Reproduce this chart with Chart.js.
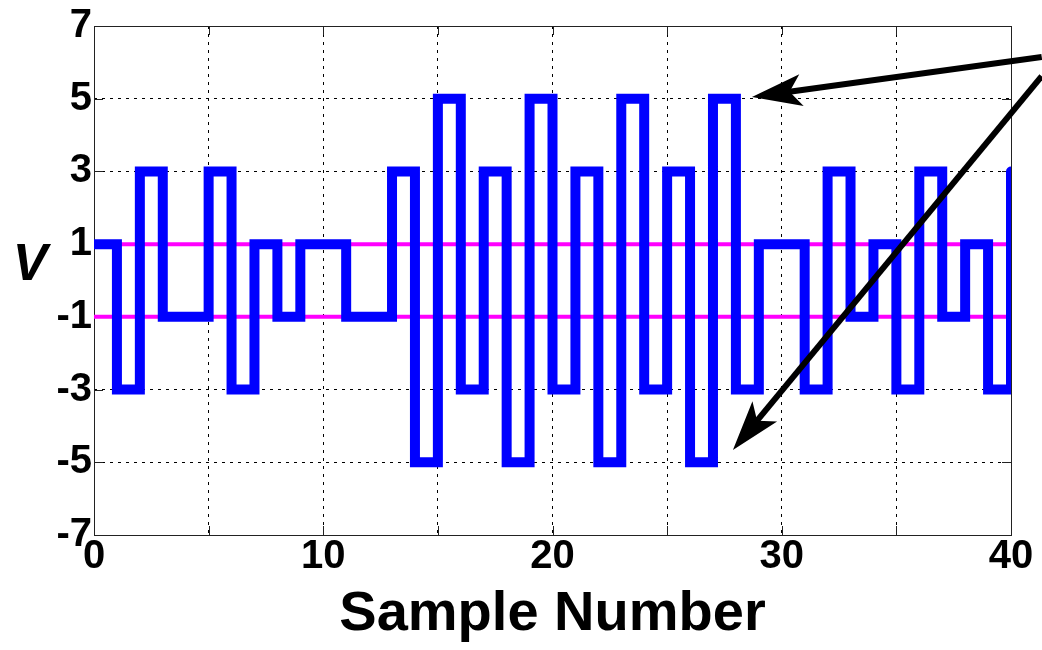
<!DOCTYPE html>
<html><head><meta charset="utf-8">
<script src="https://cdn.jsdelivr.net/npm/chart.js@4"></script>
<style>html,body{margin:0;padding:0;background:#fff;}#wrap{width:1042px;height:650px;position:relative;}</style>
</head><body><div id="wrap"><canvas id="c" width="1042" height="650"></canvas></div>
<script>
// ---- data ----
const sampleValues = [1,-3,3,-1,-1,3,-3,1,-1,1,1,-1,-1,3,-5,5,-3,3,-5,5,-3,3,-5,5,-3,3,-5,5,-3,1,1,-3,3,-1,1,-3,3,-1,1,-3,3];
const thresholdLevels = [1, -1];
const xRange = [0, 40];
const yRange = [-7, 7];
const xTickStep = 5;
const xLabelStep = 10;
const yTickStep = 2;
const axisTitleX = 'Sample Number';
const axisTitleY = 'V';
// annotation arrows (data coordinates): tail -> tip
const arrowTails = [[41.34, 6.15], [41.34, 5.62]];
const arrowTips  = [[28.7, 5.05], [27.87, -4.66]];

const FONT = '"Liberation Sans", Arial, Helvetica, sans-serif';

const signalPoints = sampleValues.map((v, i) => ({x: i, y: v}));
const thresholdSets = thresholdLevels.map(l => ({
  data: [{x: xRange[0], y: l}, {x: xRange[1], y: l}],
  borderColor: '#ff00ff', borderWidth: 4, pointRadius: 0, fill: false, tension: 0
}));

const framePlugin = {
  id: 'frame',
  beforeDatasetsDraw(chart) {
    const {ctx, chartArea: a, scales} = chart;
    ctx.save();
    ctx.strokeStyle = '#222';
    ctx.lineWidth = 1;
    ctx.strokeRect(a.left + 0.5, a.top + 0.5, a.right - a.left, a.bottom - a.top);
    const tl = 9;
    ctx.beginPath();
    scales.x.ticks.forEach(t => {
      const px = Math.round(scales.x.getPixelForValue(t.value)) + 0.5;
      ctx.moveTo(px, a.bottom); ctx.lineTo(px, a.bottom - tl);
      ctx.moveTo(px, a.top); ctx.lineTo(px, a.top + tl);
    });
    scales.y.ticks.forEach(t => {
      const py = Math.round(scales.y.getPixelForValue(t.value)) + 0.5;
      ctx.moveTo(a.left, py); ctx.lineTo(a.left + tl, py);
      ctx.moveTo(a.right, py); ctx.lineTo(a.right - tl, py);
    });
    ctx.stroke();
    ctx.restore();
  },
  afterDatasetsDraw(chart) {
    const {ctx, scales} = chart;
    ctx.save();
    ctx.fillStyle = '#000';
    ctx.strokeStyle = '#000';
    arrowTails.forEach((tail, i) => {
      const tip = arrowTips[i];
      const tx = scales.x.getPixelForValue(tail[0]), ty = scales.y.getPixelForValue(tail[1]);
      const hx = scales.x.getPixelForValue(tip[0]), hy = scales.y.getPixelForValue(tip[1]);
      const dx = tx - hx, dy = ty - hy, len = Math.hypot(dx, dy);
      const ux = dx / len, uy = dy / len, nx = -uy, ny = ux;
      const L = 50, W = 16, inset = 12;
      ctx.lineWidth = 6;
      ctx.beginPath();
      ctx.moveTo(hx + ux * (L - inset - 2), hy + uy * (L - inset - 2));
      ctx.lineTo(tx, ty);
      ctx.stroke();
      ctx.beginPath();
      ctx.moveTo(hx, hy);
      ctx.lineTo(hx + ux * L + nx * W, hy + uy * L + ny * W);
      ctx.lineTo(hx + ux * (L - inset), hy + uy * (L - inset));
      ctx.lineTo(hx + ux * L - nx * W, hy + uy * L - ny * W);
      ctx.closePath();
      ctx.fill();
    });
    ctx.restore();
  },
  afterDraw(chart) {
    const {ctx} = chart;
    ctx.save();
    ctx.fillStyle = '#000';
    ctx.font = 'italic bold 52px ' + FONT;
    ctx.textAlign = 'center';
    ctx.textBaseline = 'middle';
    ctx.fillText(axisTitleY, 30, 266);
    ctx.restore();
  }
};

new Chart(document.getElementById('c'), {
  type: 'line',
  data: {
    datasets: [
      {
        data: signalPoints, stepped: true, borderColor: '#0000ff', borderWidth: 10,
        pointRadius: 0, fill: false, borderJoinStyle: 'miter', borderCapStyle: 'round'
      },
      ...thresholdSets
    ]
  },
  options: {
    responsive: false,
    animation: false,
    events: [],
    layout: {padding: {left: 0, right: 31, top: 26, bottom: 2}},
    plugins: {legend: {display: false}, tooltip: {enabled: false}},
    scales: {
      x: {
        type: 'linear', min: xRange[0], max: xRange[1],
        afterFit: s => { s.height = 113; },
        grid: {color: '#000', lineWidth: 1, drawTicks: false},
        border: {display: false, dash: [3, 5]},
        ticks: {
          stepSize: xTickStep, padding: 0, color: '#000',
          font: {family: FONT, size: 40, weight: 'bold', lineHeight: 1.1},
          maxRotation: 0, autoSkip: false,
          callback: v => (v % xLabelStep === 0 ? String(v) : '')
        },
        title: {display: true, text: axisTitleX, color: '#000', padding: 0,
          font: {family: FONT, size: 56, weight: 'bold', lineHeight: 1.2}}
      },
      y: {
        type: 'linear', min: yRange[0], max: yRange[1],
        afterFit: s => { s.width = 94; },
        grid: {color: '#000', lineWidth: 1, drawTicks: false},
        border: {display: false, dash: [3, 5]},
        ticks: {
          stepSize: yTickStep, padding: 2, color: '#000', autoSkip: false,
          font: {family: FONT, size: 40, weight: 'bold', lineHeight: 1.1}
        }
      }
    }
  },
  plugins: [framePlugin]
});
</script>
</body></html>
